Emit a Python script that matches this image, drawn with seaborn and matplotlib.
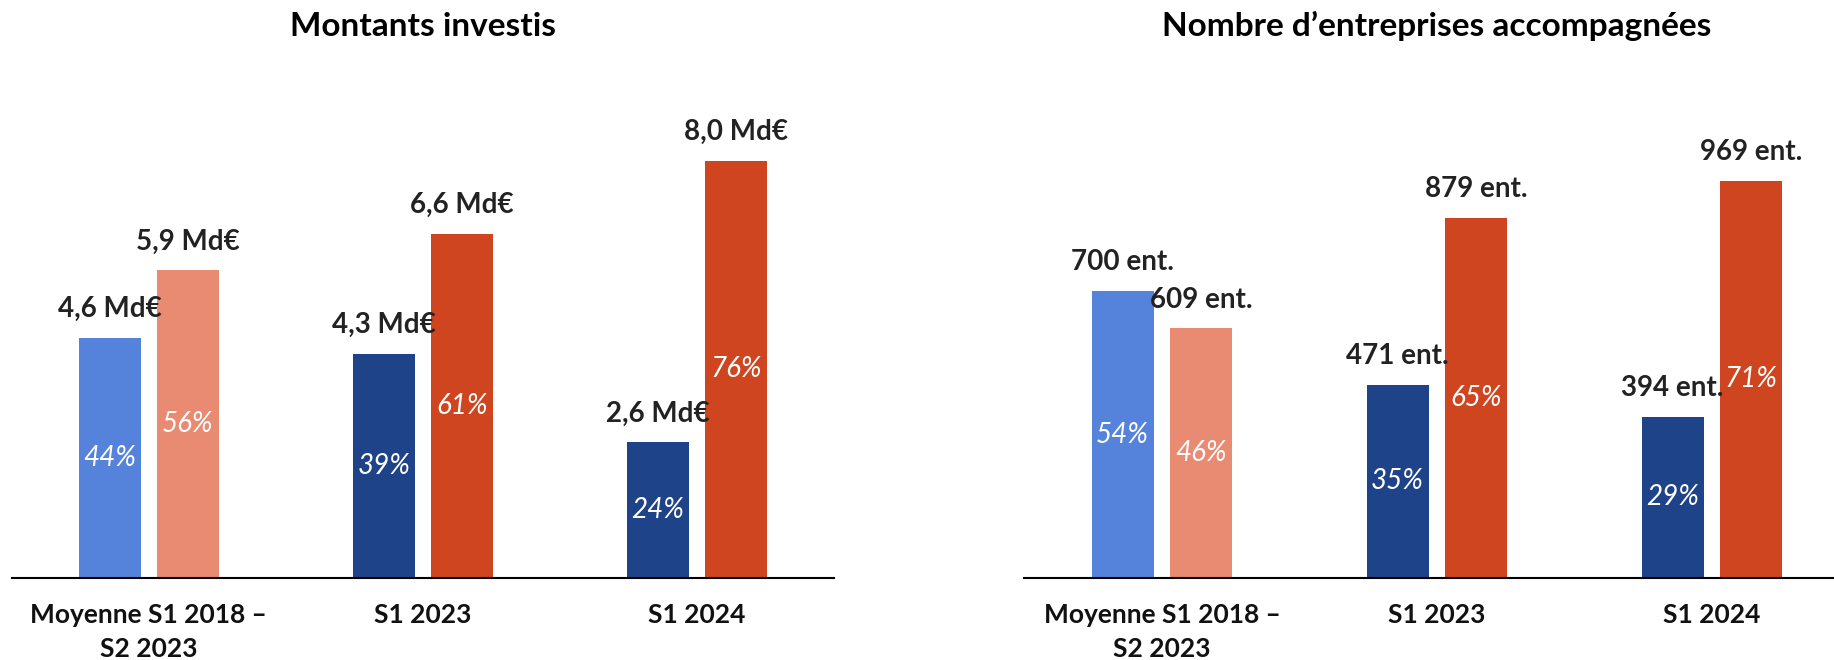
import pandas as pd
import seaborn as sns
from matplotlib import pyplot as plt

# data
categories = ["Moyenne S1 2018 –\nS2 2023", "S1 2023", "S1 2024"]
series = ["a", "b"]

montants_a = [4.6, 4.3, 2.6]
montants_b = [5.9, 6.6, 8.0]
montants_pct_a = ["44%", "39%", "24%"]
montants_pct_b = ["56%", "61%", "76%"]

ent_a = [700, 471, 394]
ent_b = [609, 879, 969]
ent_pct_a = ["54%", "35%", "29%"]
ent_pct_b = ["46%", "65%", "71%"]

titles = ["Montants investis", "Nombre d\u2019entreprises accompagnées"]

# colours per bar (first group is lighter)
colors_a = ["#5583DB", "#1F4389", "#1F4389"]
colors_b = ["#E98A73", "#CF4520", "#CF4520"]

sns.set_style("white")
plt.rcParams["font.family"] = ["Lato", "DejaVu Sans"]


def fmt_md(v):
    return f"{v:.1f}".replace(".", ",") + " Md€"


def fmt_ent(v):
    return f"{int(round(v))} ent."


def draw(ax, vals_a, vals_b, pct_a, pct_b, fmt, ytop, title):
    df = pd.DataFrame({
        "cat": categories * 2,
        "serie": [series[0]] * 3 + [series[1]] * 3,
        "val": list(vals_a) + list(vals_b),
    })
    sns.barplot(data=df, x="cat", y="val", hue="serie", order=categories,
                palette=["#1F4389", "#CF4520"], saturation=1, width=0.572,
                gap=0.211, linewidth=0, legend=False, ax=ax)
    for cont, cols, pcts in zip(ax.containers, [colors_a, colors_b], [pct_a, pct_b]):
        for bar, c, p in zip(cont, cols, pcts):
            bar.set_facecolor(c)
            x = bar.get_x() + bar.get_width() / 2
            h = bar.get_height()
            ax.annotate(fmt(h), (x, h), xytext=(0, 15), textcoords="offset points",
                        ha="center", va="baseline", fontsize=20,
                        fontweight="bold", color="#222222")
            ax.text(x, h / 2, p, ha="center", va="center", fontsize=20,
                    fontstyle="italic", color="white")
    ax.set_ylim(0, ytop)
    ax.set_xlim(-0.5, 2.5)
    ax.set_xlabel("")
    ax.set_ylabel("")
    ax.set_yticks([])
    ax.tick_params(axis="x", length=0, pad=18, labelsize=19)
    for lab in ax.get_xticklabels():
        lab.set_fontweight("bold")
        lab.set_color("#111111")
        lab.set_linespacing(1.5)
    sns.despine(ax=ax, left=True)
    ax.spines["bottom"].set_color("black")
    ax.spines["bottom"].set_linewidth(1.5)
    ax.set_title(title, fontsize=24, fontweight="bold", pad=32, color="black")


fig = plt.figure(figsize=(18.34, 6.6), dpi=100)
ax1 = fig.add_axes([0.0064, 0.1242, 0.4484, 0.7546])
ax2 = fig.add_axes([0.5586, 0.1242, 0.4498, 0.7546])

draw(ax1, montants_a, montants_b, montants_pct_a, montants_pct_b, fmt_md, 9.55, titles[0])
draw(ax2, ent_a, ent_b, ent_pct_a, ent_pct_b, fmt_ent, 1215, titles[1])

fig.savefig("out.png", dpi=100)
